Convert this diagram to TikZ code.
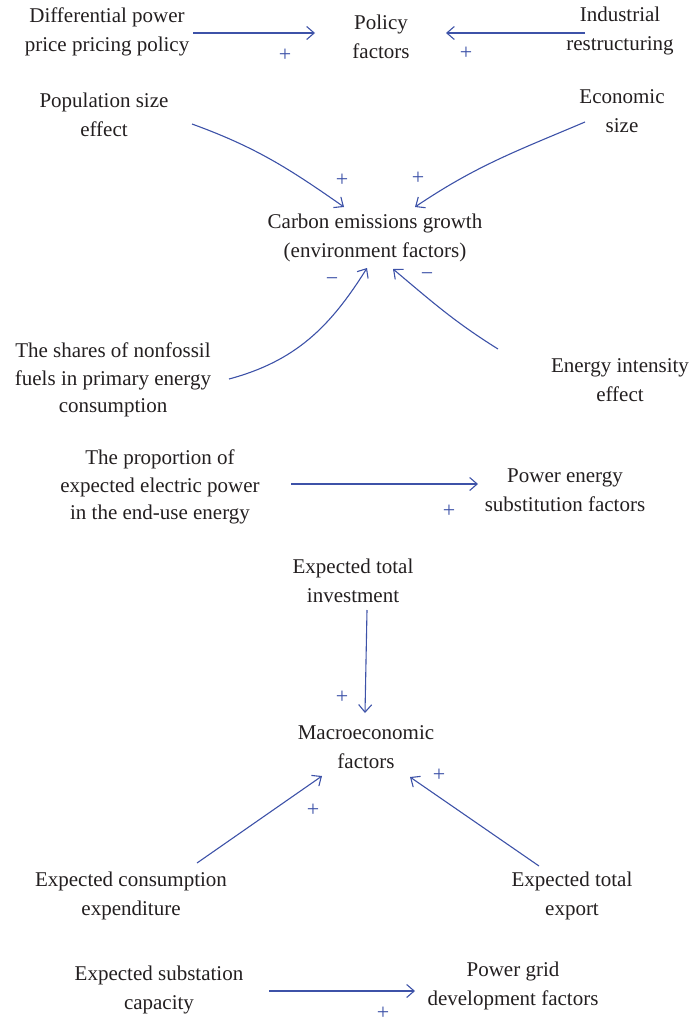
\documentclass[tikz,border=0pt]{standalone}
\usepackage{fontspec}
\setmainfont{Liberation Serif}
\usetikzlibrary{arrows.meta}
\definecolor{linkblue}{HTML}{3D52A8}
\definecolor{txt}{HTML}{231F20}
\tikzset{
  lbl/.style={align=center, inner sep=0pt, text=txt, font=\fontsize{21}{29.5}\selectfont},
  lblthree/.style={lbl, font=\fontsize{21}{27.5}\selectfont},
  arr/.style={draw=linkblue, line width=1.1pt, -{Straight Barb[length=7.5pt,width=13pt,line width=1.1pt]}},
  sgn/.style={inner sep=0pt, text=linkblue, font=\fontsize{22}{22}\selectfont}
}
\begin{document}
\begin{tikzpicture}[x=1pt,y=-1pt]
\useasboundingbox (0,0) rectangle (692,1023);
% text nodes
\node[lbl] (dpp) at (107,32) {Differential power\\price pricing policy};
\node[lbl] (pol) at (381,37) {Policy\\factors};
\node[lbl] (ind) at (620,31) {Industrial\\restructuring};
\node[lbl] (pop) at (104,115) {Population size\\effect};
\node[lbl] (eco) at (622,111) {Economic\\size};
\node[lbl] (carb) at (375,238) {Carbon emissions growth\\(environment factors)};
\node[lblthree] (nff) at (113,380) {The shares of nonfossil\\fuels in primary energy\\consumption};
\node[lbl] (eie) at (620,380) {Energy intensity\\effect};
\node[lblthree] (prop) at (160,487) {The proportion of\\expected electric power\\in the end-use energy};
\node[lbl] (pes) at (565,490) {Power energy\\substitution factors};
\node[lbl] (eti) at (353,581) {Expected total\\investment};
\node[lbl] (mac) at (366,747) {Macroeconomic\\factors};
\node[lbl] (ece) at (131,896) {Expected consumption\\expenditure};
\node[lbl] (ete) at (572,896) {Expected total\\export};
\node[lbl] (esc) at (159,990) {Expected substation\\capacity};
\node[lbl] (pgd) at (513,986) {Power grid\\development factors};
% connectors
\draw[arr] ([shift={(86,1)}]dpp.center) -- ([shift={(-66,-4)}]pol.center);
\draw[arr] ([shift={(-35,2)}]ind.center) -- ([shift={(65,-4)}]pol.center);
\draw[arr] ([shift={(88,9)}]pop.center) to[out=-20,in=145] ([shift={(-31,-31)}]carb.center);
\draw[arr] ([shift={(-37,11)}]eco.center) to[out=-157,in=34] ([shift={(40,-31)}]carb.center);
\draw[arr] ([shift={(116,-1)}]nff.center) to[out=15,in=-122] ([shift={(-8,30)}]carb.center);
\draw[arr] ([shift={(-122,-31)}]eie.center) to[out=148,in=-40] ([shift={(18,31)}]carb.center);
\draw[arr] ([shift={(131,-3)}]prop.center) -- ([shift={(-87,-6)}]pes.center);
\draw[arr] ([shift={(14,29)}]eti.center) -- ([shift={(-1,-34)}]mac.center);
\draw[arr] ([shift={(66,-33)}]ece.center) -- ([shift={(-44,29)}]mac.center);
\draw[arr] ([shift={(-33,-30)}]ete.center) -- ([shift={(44,30)}]mac.center);
\draw[arr] ([shift={(110,1)}]esc.center) -- ([shift={(-98,5)}]pgd.center);
% signs
\node[sgn] (s1) at (285,55) {+};
\node[sgn] (s2) at (466,53) {+};
\node[sgn] (s3) at (342,180) {+};
\node[sgn] (s4) at (418,178) {+};
\node[sgn] (s5) at (332,282) {−};
\node[sgn] (s6) at (427,277) {−};
\node[sgn] (s7) at (449,511) {+};
\node[sgn] (s8) at (342,697) {+};
\node[sgn] (s9) at (313,810) {+};
\node[sgn] (s10) at (439,775) {+};
\node[sgn] (s11) at (383,1013) {+};
\end{tikzpicture}
\end{document}
